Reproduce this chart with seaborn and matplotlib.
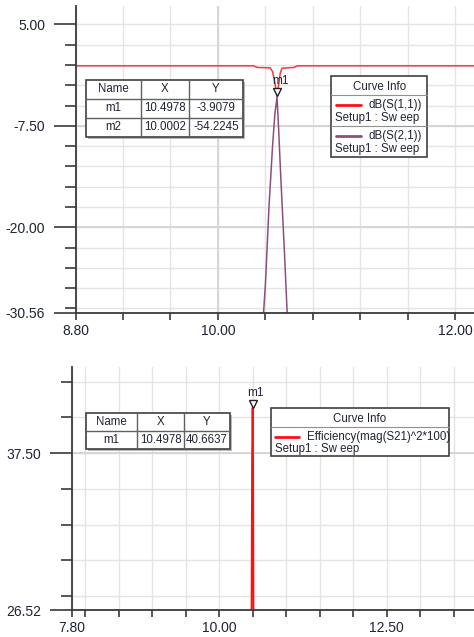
import matplotlib

matplotlib.use("Agg")
import matplotlib.pyplot as plt
import matplotlib.transforms as mtransforms
from matplotlib.patches import Rectangle
from matplotlib.lines import Line2D
import numpy as np
import pandas as pd
import seaborn as sns

W, H = 474, 637

# --- top chart data (dB vs GHz) ---
s11_freq = [8.80, 10.30, 10.33, 10.44, 10.46, 10.48, 10.4978, 10.51, 10.525, 10.54, 10.64, 10.67, 12.20]
s11_db = [-0.1, -0.1, -0.3, -0.35, -0.8, -2.2, -3.9079, -2.6, -1.0, -0.4, -0.3, -0.1, -0.1]
s21_freq = [10.30, 10.36, 10.40, 10.43, 10.46, 10.48, 10.4978, 10.51, 10.53, 10.56, 10.60, 10.66]
s21_db = [-45.0, -36.0, -27.0, -17.5, -10.0, -6.0, -3.95, -7.5, -14.0, -23.0, -36.0, -45.0]
top_markers = ["m1", "m2"]
top_marker_x = [10.4978, 10.0002]
top_marker_y = [-3.9079, -54.2245]

# --- bottom chart data (efficiency %) ---
eff_freq = [10.47, 10.49, 10.4978, 10.505, 10.52]
eff_pct = [10.0, 37.3, 40.6637, 37.2, 10.0]
bot_markers = ["m1"]
bot_marker_x = [10.4978]
bot_marker_y = [40.6637]

RED = "#f23a3a"
RED2 = "#ff1010"
PURPLE = "#8a4f7d"
TXT = "#1e2433"
GRID = "#e4e4e4"
GRID_MAJ = "#d4d4d4"
SPINE = "#3a3a3a"

sns.set_theme(style="white")
plt.rcParams["font.family"] = ["Liberation Sans", "DejaVu Sans"]

fig = plt.figure(figsize=(W / 100, H / 100), dpi=100)


def fx(px):
    return px / W


def fy(py):
    return 1 - py / H


def style_axes(ax, xticks, xlabels, yticks_major, ylabels, yticks_minor):
    for s in ["top", "right"]:
        ax.spines[s].set_visible(False)
    for s in ["left", "bottom"]:
        ax.spines[s].set_color(SPINE)
        ax.spines[s].set_linewidth(1.3)
    ax.set_xticks(xticks)
    ax.set_xticklabels(xlabels)
    ax.set_yticks(yticks_major)
    ax.set_yticklabels(ylabels)
    ax.set_yticks(yticks_minor, minor=True)
    ax.tick_params(axis="x", direction="out", length=5, width=1.2, color=SPINE,
                   labelsize=10, labelcolor=TXT, pad=3, bottom=True)
    ax.tick_params(axis="y", which="major", direction="out", length=16, width=1.2,
                   color=SPINE, labelsize=10, labelcolor=TXT, pad=6, left=True)
    ax.tick_params(axis="y", which="minor", direction="out", length=8, width=1.2,
                   color=SPINE, left=True)
    for x in xticks:
        ax.axvline(x, color=GRID, lw=1.0, zorder=0)
    for y in list(yticks_major) + list(yticks_minor):
        ax.axhline(y, color=GRID, lw=1.0, zorder=0)
    ax.set_xlabel("")
    ax.set_ylabel("")


def table(rows, x0, y0, colw, rowh):
    total_w = sum(colw)
    total_h = rowh * len(rows)
    fig.patches.append(Rectangle((fx(x0 + 2), fy(y0 + total_h + 2)), total_w / W, total_h / H,
                                 transform=fig.transFigure, facecolor="#b8b8b8", edgecolor="none", zorder=5))
    fig.patches.append(Rectangle((fx(x0), fy(y0 + total_h)), total_w / W, total_h / H,
                                 transform=fig.transFigure, facecolor="white", edgecolor="#404040",
                                 lw=1.2, zorder=6))
    for r in range(1, len(rows)):
        yy = y0 + r * rowh
        fig.lines.append(Line2D([fx(x0), fx(x0 + total_w)], [fy(yy), fy(yy)], transform=fig.transFigure,
                                color="#606060", lw=1.0, zorder=7))
    cx = x0
    for c, w in enumerate(colw):
        if c > 0:
            fig.lines.append(Line2D([fx(cx), fx(cx)], [fy(y0), fy(y0 + total_h)], transform=fig.transFigure,
                                    color="#606060", lw=1.0, zorder=7))
        for r, row in enumerate(rows):
            fig.text(fx(cx + w / 2), fy(y0 + r * rowh + rowh / 2), row[c], ha="center", va="center",
                     fontsize=8.3, color=TXT, zorder=8)
        cx += w


def curve_info(x0, y0, w, entries, head_h=19, entry_h=31):
    total_h = head_h + entry_h * len(entries)
    fig.patches.append(Rectangle((fx(x0), fy(y0 + total_h)), w / W, total_h / H,
                                 transform=fig.transFigure, facecolor="white", edgecolor="#404040",
                                 lw=1.2, zorder=6))
    fig.text(fx(x0 + w / 2), fy(y0 + head_h / 2 + 1), "Curve Info", ha="center", va="center",
             fontsize=8.3, color=TXT, zorder=8)
    for i, (label, color, lx0, lx1, tx, ha) in enumerate(entries):
        top = y0 + head_h + i * entry_h
        fig.lines.append(Line2D([fx(x0), fx(x0 + w)], [fy(top), fy(top)], transform=fig.transFigure,
                                color="#909090", lw=0.8, zorder=7))
        ly = top + 10
        fig.lines.append(Line2D([fx(lx0), fx(lx1)], [fy(ly), fy(ly)], transform=fig.transFigure,
                                color=color, lw=2.0, zorder=8))
        fig.text(fx(tx), fy(ly), label, ha=ha, va="center", fontsize=8.3, color=TXT, zorder=8)
        fig.text(fx(x0 + 4), fy(ly + 12.5), "Setup1 : Sw eep", ha="left", va="center",
                 fontsize=8.3, color=TXT, zorder=8)


def marker(ax, x, y, name, dy):
    off = mtransforms.offset_copy(ax.transData, fig=fig, y=dy, units="dots")
    ax.plot([x], [y], marker="v", ms=6, mfc="white", mec="#202020", mew=1.0,
            transform=off, zorder=6, clip_on=False)
    off2 = mtransforms.offset_copy(ax.transData, fig=fig, x=3, y=dy + 11, units="dots")
    ax.text(x, y, name, transform=off2, ha="center", va="center", fontsize=8.5, color=TXT, zorder=6)


# ---------------- top chart ----------------
ax1 = fig.add_axes([fx(75.5), fy(313), 1 - fx(75.5), (313 - 6) / H])
df_top = pd.concat([
    pd.DataFrame({"freq": s11_freq, "db": s11_db, "trace": "dB(S(1,1))"}),
    pd.DataFrame({"freq": s21_freq, "db": s21_db, "trace": "dB(S(2,1))"}),
])
sns.lineplot(data=df_top, x="freq", y="db", hue="trace", estimator=None, sort=False,
             palette={"dB(S(1,1))": RED, "dB(S(2,1))": PURPLE}, linewidth=1.1, legend=False, ax=ax1)
ax1.set_xlim(8.8, 8.8 + (474 - 75.5) / 118.7)
ax1.set_ylim(-30.56, 7.27)
xt1 = [8.8 + 0.4 * i for i in range(9)]
xl1 = ["8.80" if i == 0 else "10.00" if i == 3 else "12.00" if i == 8 else "" for i in range(9)]
style_axes(ax1, xt1, xl1, [5.0, -7.5, -20.0, -30.56], ["5.00", "-7.50", "-20.00", "-30.56"],
           [2.5, 0, -2.5, -5, -10, -12.5, -15, -17.5, -22.5, -25, -27.5, -30])
for lim in [-7.5, -20.0]:
    ax1.axhline(lim, color=GRID_MAJ, lw=1.3, zorder=0)
ax1.axvline(10.0, color=GRID_MAJ, lw=1.3, zorder=0)
marker(ax1, top_marker_x[0], top_marker_y[0], top_markers[0], 5)

table([["Name", "X", "Y"]] + [[n, f"{x:.4f}", f"{y:.4f}"] for n, x, y in
                              zip(top_markers, top_marker_x, top_marker_y)],
      85.7, 79.7, [55, 48.6, 53.4], 19)
curve_info(331.3, 76.3, 96, [("dB(S(1,1))", RED2, 336, 361, 421.5, "right"),
                             ("dB(S(2,1))", PURPLE, 336, 361, 421.5, "right")])

# ---------------- bottom chart ----------------
ax2 = fig.add_axes([fx(71.7), fy(610), 1 - fx(71.7), (610 - 367.3) / H])
df_bot = pd.DataFrame({"freq": eff_freq, "eff": eff_pct, "trace": "Efficiency(mag(S21)^2*100)"})
sns.lineplot(data=df_bot, x="freq", y="eff", hue="trace", estimator=None, sort=False,
             palette={"Efficiency(mag(S21)^2*100)": RED2}, linewidth=1.3, legend=False, ax=ax2)
ax2.set_xlim(7.8, 13.8)
ax2.set_ylim(26.52, 43.5)
xt2 = [7.8] + [8.0 + 0.5 * i for i in range(12)]
xl2 = ["7.80" if x == 7.8 else "10.00" if abs(x - 10) < 1e-9 else "12.50" if abs(x - 12.5) < 1e-9 else ""
       for x in xt2]
style_axes(ax2, xt2, xl2, [37.5, 26.52], ["37.50", "26.52"], [42.5, 40.0, 35.0, 32.5, 30.0, 27.5])
ax2.axhline(37.5, color=GRID_MAJ, lw=1.3, zorder=0)
marker(ax2, bot_marker_x[0], bot_marker_y[0], bot_markers[0], 4)

table([["Name", "X", "Y"]] + [[n, f"{x:.4f}", f"{y:.4f}"] for n, x, y in
                              zip(bot_markers, bot_marker_x, bot_marker_y)],
      85.7, 413.3, [51.6, 46.4, 46.3], 18)
curve_info(271, 408.3, 178, [("Efficiency(mag(S21)^2*100)", RED2, 275, 299, 306.7, "left")],
           head_h=18.4, entry_h=29)

fig.savefig("out.png", dpi=100)
